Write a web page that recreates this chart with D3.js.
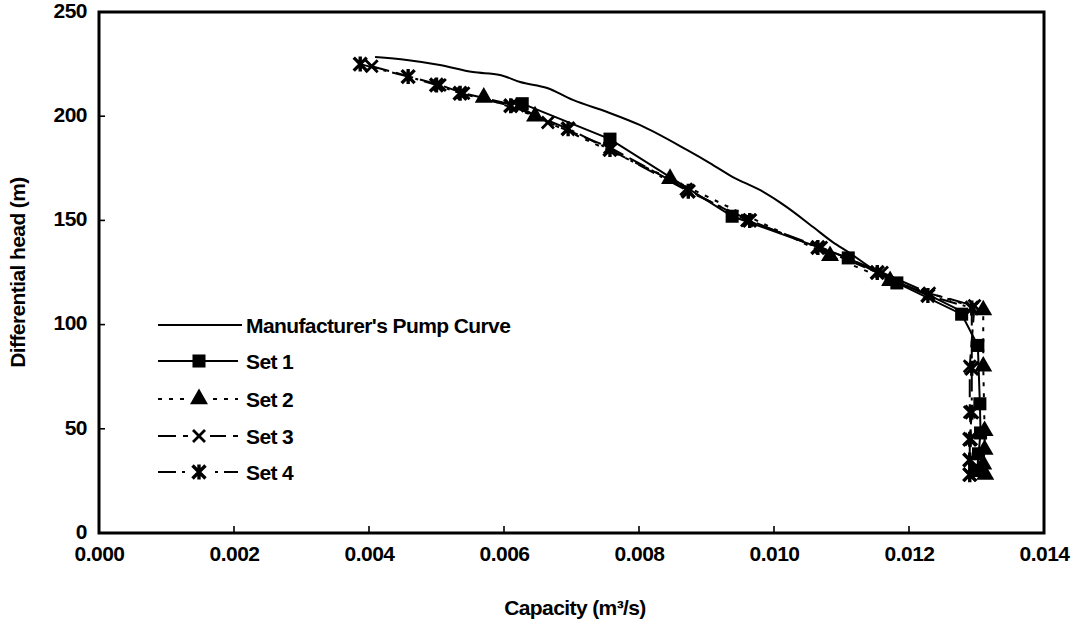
<!DOCTYPE html>
<html>
<head>
<meta charset="utf-8">
<script src="https://cdn.jsdelivr.net/npm/d3@7"></script>
<style>
  html, body { margin: 0; padding: 0; background: #fff; }
  svg text { font-family: "Liberation Sans", Arial, sans-serif; font-weight: bold; fill: #000; }
</style>
</head>
<body>
<svg id="chart" width="1076" height="625"></svg>
<script>
// ---- data ----
const xTicks = [0, 0.002, 0.004, 0.006, 0.008, 0.010, 0.012, 0.014];
const yTicks = [0, 50, 100, 150, 200, 250];

const manufacturerQ = [0.00409, 0.00456, 0.00505, 0.00554, 0.00594, 0.00624, 0.00664, 0.00702, 0.00753, 0.00801, 0.00871, 0.00905, 0.00939, 0.00979, 0.01019, 0.01058, 0.01087, 0.0111, 0.0115, 0.0118, 0.0123, 0.0128];
const manufacturerH = [228.4, 227.0, 224.6, 221.2, 219.8, 216.4, 213.5, 207.8, 202.0, 195.8, 183.8, 177.5, 170.8, 164.6, 156.4, 146.8, 139.6, 134.8, 126, 121, 114, 106];

const set1Q = [0.00627, 0.00757, 0.00938, 0.0111, 0.01182, 0.01278, 0.01302, 0.01305, 0.01306, 0.01303, 0.01301];
const set1H = [206, 189, 152, 132, 120, 105, 90, 62, 48, 38, 30];

const set2Q = [0.0057, 0.00646, 0.00846, 0.01083, 0.01172, 0.0131, 0.0131, 0.01312, 0.01312, 0.0131, 0.01313];
const set2H = [209, 200, 170, 133, 121, 107, 80, 49, 40, 33, 28];

const set3Q = [0.00404, 0.00505, 0.0054, 0.0062, 0.00665, 0.00757, 0.0087, 0.0096, 0.0107, 0.0116, 0.0123, 0.01297, 0.0129, 0.0129, 0.01292, 0.0129, 0.0129];
const set3H = [224, 215, 211, 205, 197, 185, 165, 150, 137, 125, 115, 109, 80, 58, 45, 35, 28];

const set4Q = [0.00387, 0.00458, 0.0050, 0.00535, 0.0061, 0.00695, 0.00757, 0.00873, 0.00964, 0.01065, 0.01153, 0.01228, 0.01293, 0.01293, 0.01293, 0.0129, 0.0129, 0.0129];
const set4H = [225, 219, 215, 211, 205, 194, 184, 164, 150, 137, 125, 114, 108, 79, 58, 45, 35, 28];

const seriesNames = ["Manufacturer's Pump Curve", "Set 1", "Set 2", "Set 3", "Set 4"];

// ---- layout ----
const svg = d3.select("#chart");
const pLeft = 99, pRight = 1044, pTop = 12, pBottom = 533;
const x = d3.scaleLinear().domain([0, 0.014]).range([pLeft, pRight]);
const y = d3.scaleLinear().domain([0, 250]).range([pBottom, pTop]);
const FS = 21;

const zip = (qs, hs) => qs.map((q, i) => ({q, h: hs[i]}));
const series = [
  {name: seriesNames[0], data: zip(manufacturerQ, manufacturerH), dash: null, marker: null, curve: d3.curveMonotoneX},
  {name: seriesNames[1], data: zip(set1Q, set1H), dash: null, marker: "square", curve: d3.curveLinear},
  {name: seriesNames[2], data: zip(set2Q, set2H), dash: "4,7", marker: "triangle", curve: d3.curveLinear},
  {name: seriesNames[3], data: zip(set3Q, set3H), dash: "18,7", marker: "x", curve: d3.curveLinear},
  {name: seriesNames[4], data: zip(set4Q, set4H), dash: "18,6,3,6", marker: "asterisk", curve: d3.curveLinear}
];

function markerPath(type) {
  if (type === "square") return d3.symbol(d3.symbolSquare, 170)();
  if (type === "triangle") return d3.symbol(d3.symbolTriangle, 140)();
  if (type === "x") { const r = 6; return `M${-r},${-r}L${r},${r}M${-r},${r}L${r},${-r}`; }
  if (type === "asterisk") { const r = 6.5; return `M${-r},${-r}L${r},${r}M${-r},${r}L${r},${-r}M0,${-r - 1}L0,${r + 1}`; }
  return "";
}
function drawMarker(g, type) {
  const p = g.append("path").attr("d", markerPath(type));
  if (type === "square" || type === "triangle") p.attr("fill", "#000").attr("stroke", "none");
  else p.attr("fill", "none").attr("stroke", "#000").attr("stroke-width", type === "asterisk" ? 3.4 : 2.8);
}

// ---- axes ----
const xAxis = d3.axisBottom(x).tickValues(xTicks).tickFormat(d3.format(".3f")).tickSize(0).tickPadding(13);
const gx = svg.append("g").attr("transform", `translate(0,${pBottom})`).call(xAxis);
gx.select(".domain").remove();
gx.selectAll("text").attr("font-size", FS).attr("font-family", "Liberation Sans, Arial, sans-serif").attr("font-weight", "bold").attr("letter-spacing", "-0.5");

const yAxis = d3.axisLeft(y).tickValues(yTicks).tickSize(0).tickPadding(12);
const gy = svg.append("g").attr("transform", `translate(${pLeft},0)`).call(yAxis);
gy.select(".domain").remove();
gy.selectAll("text").attr("font-size", FS).attr("font-family", "Liberation Sans, Arial, sans-serif").attr("font-weight", "bold").attr("dy", "0.25em").attr("letter-spacing", "-0.5");

// inward ticks
svg.append("g").selectAll("line").data(xTicks.slice(1, -1)).join("line")
  .attr("x1", d => x(d)).attr("x2", d => x(d)).attr("y1", pBottom).attr("y2", pBottom - 7)
  .attr("stroke", "#000").attr("stroke-width", 1.6);
svg.append("g").selectAll("line").data(yTicks.slice(1, -1)).join("line")
  .attr("y1", d => y(d)).attr("y2", d => y(d)).attr("x1", pLeft).attr("x2", pLeft + 6)
  .attr("stroke", "#000").attr("stroke-width", 1.6);

// frame
svg.append("rect").attr("x", pLeft).attr("y", pTop).attr("width", pRight - pLeft).attr("height", pBottom - pTop)
  .attr("fill", "none").attr("stroke", "#000").attr("stroke-width", 3);

// axis titles
svg.append("text").attr("x", 575).attr("y", 615).attr("text-anchor", "middle")
  .attr("font-size", FS).attr("letter-spacing", "-0.6")
  .text("Capacity (m³/s)");
svg.append("text").attr("transform", `translate(25,${(pTop + pBottom) / 2}) rotate(-90)`).attr("text-anchor", "middle")
  .attr("font-size", FS).attr("letter-spacing", "-0.6")
  .text("Differential head (m)");

// ---- lines ----
series.forEach(s => {
  const line = d3.line().x(d => x(d.q)).y(d => y(d.h)).curve(s.curve);
  svg.append("path").datum(s.data).attr("d", line).attr("fill", "none")
    .attr("stroke", "#000").attr("stroke-width", 2)
    .attr("stroke-dasharray", s.dash);
});
// ---- markers ----
series.filter(s => s.marker).forEach(s => {
  s.data.forEach(d => {
    const g = svg.append("g").attr("transform", `translate(${x(d.q)},${y(d.h)})`);
    drawMarker(g, s.marker);
  });
});

// ---- legend ----
const legY = [325, 361, 399, 436, 472];
series.forEach((s, i) => {
  const g = svg.append("g").attr("transform", `translate(0,${legY[i]})`);
  const x2 = i === 0 ? 242 : 238;
  g.append("line").attr("x1", 158).attr("x2", x2).attr("y1", 0).attr("y2", 0)
    .attr("stroke", "#000").attr("stroke-width", 1.8).attr("stroke-dasharray", s.dash);
  if (s.marker) {
    const m = g.append("g").attr("transform", `translate(199,0)`);
    m.append("rect").attr("x", -11).attr("y", -8).attr("width", 22).attr("height", 16).attr("fill", s.marker === "square" ? "none" : "#fff");
    drawMarker(m, s.marker);
  }
  g.append("text").attr("x", 246).attr("y", 0).attr("dy", "0.36em").attr("font-size", FS)
    .attr("letter-spacing", "-0.6").text(s.name);
});
</script>
</body>
</html>
